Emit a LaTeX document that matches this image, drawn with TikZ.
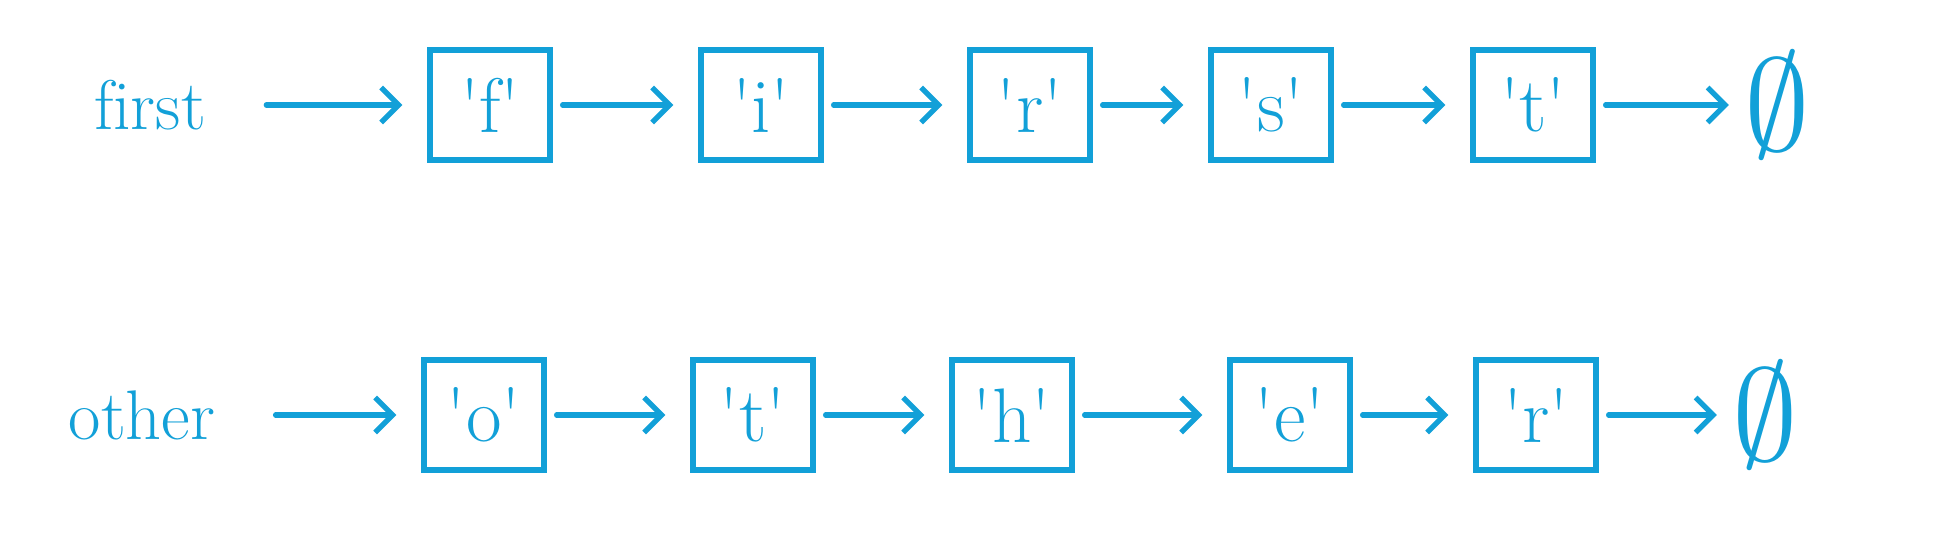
\documentclass[tikz,border=0pt]{standalone}
\usetikzlibrary{arrows.meta}
\definecolor{inkblue}{RGB}{18,160,216}
\begin{document}
\begin{tikzpicture}[x=0.02cm,y=-0.02cm]
		\tikzstyle{every node}+=[inner sep=0pt, text=inkblue]
		\tikzstyle{cell}=[draw=inkblue, line width=3pt, minimum width=2.4cm, minimum height=2.2cm, font=\fontsize{44}{50}\selectfont]
		\tikzstyle{word}=[font=\fontsize{40}{46}\selectfont]
		\tikzstyle{nil}=[minimum width=1.2cm, font=\fontsize{34}{40}\selectfont]
		\tikzstyle{link}=[draw=inkblue, line width=3pt, line cap=round, shorten >=0.5cm, shorten <=0.2cm, -{Straight Barb[length=3.5mm,width=7mm]}]
		\useasboundingbox (0,0) rectangle (1935,552);
		% first row
		\node [word] (first) at (150,105) {f\kern0pt irst};
		\node [cell] (f) at (490,105) {\textquotesingle f\textquotesingle};
		\node [cell] (i) at (761,105) {\textquotesingle i\textquotesingle};
		\node [cell] (r1) at (1030,105) {\textquotesingle r\textquotesingle};
		\node [cell] (s) at (1271,105) {\textquotesingle s\textquotesingle};
		\node [cell] (t1) at (1533,105) {\textquotesingle t\textquotesingle};
		\node [nil] (nil1) at (1777,105) {\scalebox{3}{$\emptyset$}};
		\draw [link, shorten <=1.2cm] (first.east) -- (f.west);
		\draw [link] (f.east) -- (i.west);
		\draw [link] (i.east) -- (r1.west);
		\draw [link] (r1.east) -- (s.west);
		\draw [link] (s.east) -- (t1.west);
		\draw [link, shorten >=0.3cm] (t1.east) -- (nil1.west);
		% second row
		\node [word] (other) at (142,415) {other};
		\node [cell] (o) at (484,415) {\textquotesingle o\textquotesingle};
		\node [cell] (t2) at (753,415) {\textquotesingle t\textquotesingle};
		\node [cell] (h) at (1012,415) {\textquotesingle h\textquotesingle};
		\node [cell] (e) at (1290,415) {\textquotesingle e\textquotesingle};
		\node [cell] (r2) at (1536,415) {\textquotesingle r\textquotesingle};
		\node [nil] (nil2) at (1765,415) {\scalebox{3}{$\emptyset$}};
		\draw [link, shorten <=1.2cm] (other.east) -- (o.west);
		\draw [link] (o.east) -- (t2.west);
		\draw [link] (t2.east) -- (h.west);
		\draw [link] (h.east) -- (e.west);
		\draw [link] (e.east) -- (r2.west);
		\draw [link, shorten >=0.3cm] (r2.east) -- (nil2.west);
\end{tikzpicture}
\end{document}
